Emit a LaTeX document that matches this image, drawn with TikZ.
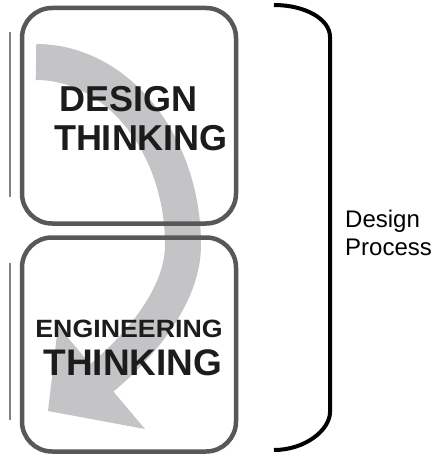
\documentclass[tikz,border=0pt]{standalone}
\usepackage{fontspec}
\setmainfont{Liberation Sans}
\usepackage{graphicx}
\definecolor{bandgray}{RGB}{196,196,198}
\definecolor{framegray}{RGB}{88,88,88}
\definecolor{rulegray}{RGB}{130,130,130}
\definecolor{inkblack}{RGB}{28,28,28}
\tikzset{
	boxframe/.style={line width=4.5, color=framegray, rounded corners=30},
	thinrule/.style={line width=1.3, color=rulegray},
	band/.style={line width=36, color=bandgray, line cap=butt},
	bracket/.style={line width=4, color=black},
	bigword/.style={inner sep=0, anchor=base, color=inkblack, font=\bfseries\fontsize{36}{40}\selectfont}
}

\begin{document}
\begin{tikzpicture}[x=1pt, y=-1pt]
		%%%%% START %%%%%
		\useasboundingbox (0, 0) rectangle (439, 457);
		
		% curved arrow behind the boxes
		\draw[band] (36, 62) .. controls (117, 62) and (183, 144) .. (183, 245)
			.. controls (183, 295) and (141, 346) .. (98, 381);
		\fill[bandgray] (48, 411) -- (58, 326) -- (145, 429) -- cycle;
		
		% boxes
		\draw[boxframe] (22, 8) rectangle (236, 223.5);
		\draw[boxframe] (22, 237.5) rectangle (236, 451.5);
		
		\draw[thinrule] (10, 32) -- (10, 197);
		\draw[thinrule] (10, 263) -- (10, 420);
		
		% box texts
		\node[bigword] (design) at (128.5, 112) {DESIGN};
		\node[bigword] (thinkA) at (141, 150) {THINKING};
		\node[bigword, font=\bfseries\fontsize{25}{28}\selectfont] (engineering) at (129, 337) {\scalebox{1.07}[1]{ENGINEERING}};
		\node[bigword, font=\bfseries\fontsize{37}{40}\selectfont] (thinkB) at (133, 375) {THINKING};
		
		% brace
		\draw[bracket] (274, 5) .. controls (305, 5) and (330, 19) .. (330, 37) -- (330, 412)
			.. controls (330, 430) and (305, 450) .. (274, 450);
		\node[inner sep=0, anchor=west, align=left, font=\fontsize{24}{28}\selectfont] (process) at (345, 232.7) {Design\\Process};
		
		%%%%% END %%%%%
	\end{tikzpicture}
\end{document}
